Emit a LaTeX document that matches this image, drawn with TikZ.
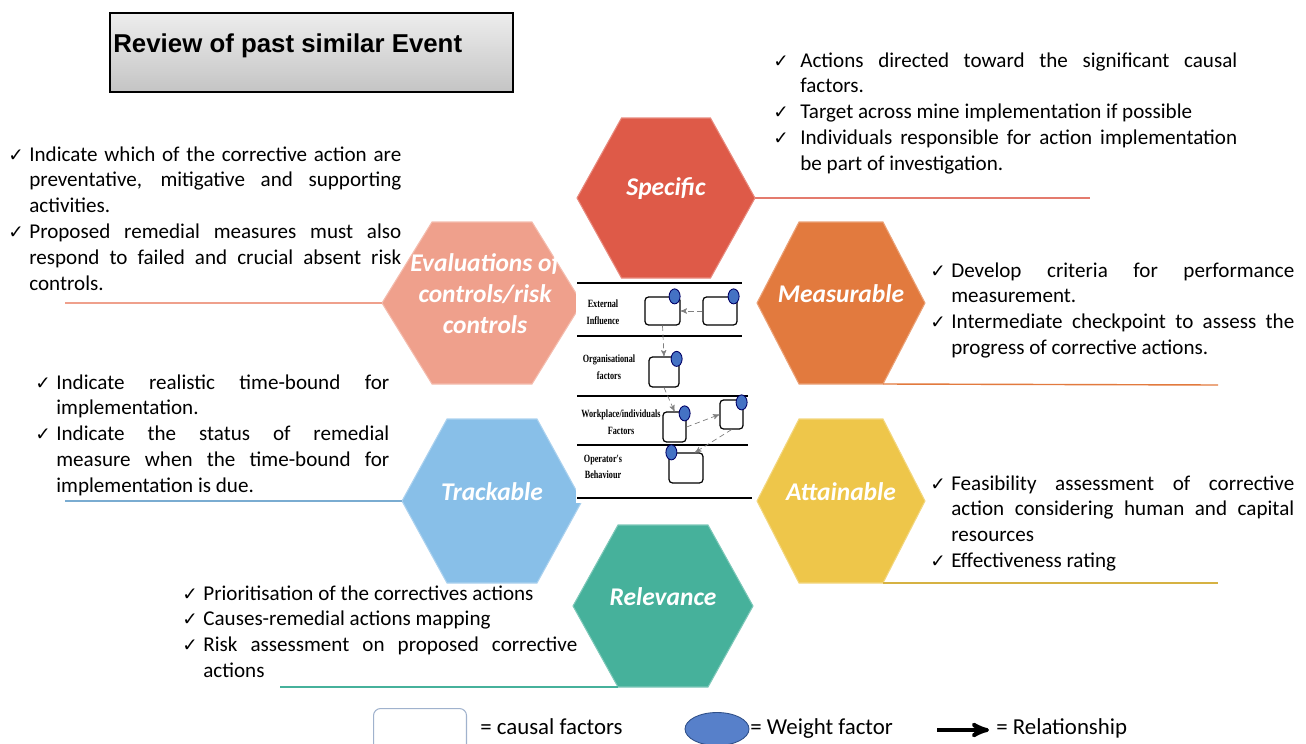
\documentclass[tikz,border=0pt]{standalone}
\usepackage{fontspec}
\setmainfont{Carlito}
\newfontfamily\titlefont{Liberation Sans}
\newfontfamily\layerfont[FakeStretch=0.74]{Liberation Serif}
\newfontfamily\chkfont{DejaVu Sans}
\usepackage{tikz}
\usetikzlibrary{arrows, positioning, shapes.geometric}

\definecolor{specred}{RGB}{222,90,72}
\definecolor{measorange}{RGB}{226,122,62}
\definecolor{attyellow}{RGB}{238,198,74}
\definecolor{relteal}{RGB}{70,177,155}
\definecolor{trackblue}{RGB}{136,191,232}
\definecolor{evalpink}{RGB}{239,160,140}
\definecolor{weightblue}{RGB}{68,114,196}
\definecolor{legendedge}{RGB}{160,178,205}

\hyphenpenalty=10000
\exhyphenpenalty=10000
\tolerance=10000

% check mark hanging left of an item
\newcommand{\chk}[1][0.42cm]{\leavevmode\llap{\makebox[#1][l]{\chkfont\fontsize{10.5}{10}\selectfont ✓}}}

% hexagon: name, x, y, half width, half height, colour
\newcommand{\hexcell}[6]{%
  \begin{scope}[shift={(#2,#3)}]
    \filldraw[fill=#6, draw=#6!70!white, line width=0.6pt] (-#4,0) -- (-#4/2,-#5) -- (#4/2,-#5) -- (#4,0) -- (#4/2,#5) -- (-#4/2,#5) -- cycle;
    \coordinate (#1-w) at (-#4,0);
    \coordinate (#1-e) at (#4,0);
    \coordinate (#1-se) at (#4/2,#5);
    \coordinate (#1-sw) at (-#4/2,#5);
    \coordinate (#1-c) at (0,-9);
  \end{scope}}

\tikzset{
>=stealth', % arrow heads
hexlabel/.style={text=white, font=\bfseries\itshape\fontsize{14.5}{17.6}\selectfont, align=center, inner sep=0pt},
bullets/.style={font=\fontsize{12}{14.7}\selectfont, align=justify, inner sep=0pt, anchor=base west},
leader/.style={line width=0.8pt},
layerline/.style={line width=0.8pt, draw=black},
layerlabel/.style={font=\layerfont\bfseries\fontsize{6.3}{9.5}\selectfont, align=center, inner sep=0pt},
causal/.style={draw=black, fill=white, line width=0.7pt, rounded corners=2pt, inner sep=0pt},
weight/.style={ellipse, draw=black!60!blue, fill=weightblue, line width=0.5pt, minimum width=0.22cm, minimum height=0.30cm, inner sep=0pt},
flow/.style={->, densely dashed, draw=gray, line width=0.4pt},
legtext/.style={font=\fontsize{13}{15}\selectfont, inner sep=0pt, anchor=base west},
}

\begin{document}
\begin{tikzpicture}[x=0.02cm, y=-0.02cm]
  \useasboundingbox (0,0) rectangle (1306,744);

  % title
  \node[draw=black, line width=0.9pt, top color=black!7, bottom color=black!23, minimum width=8.06cm, minimum height=1.58cm, anchor=north west] (title-box) at (109,12) {};
  \node[font=\titlefont\bfseries\fontsize{14.7}{17}\selectfont, inner sep=0pt, anchor=base west] (title) at (113,52) {Review of past similar Event};

  % hexagons
  \hexcell{spec}{666}{198}{89}{80}{specred}
  \hexcell{meas}{841}{303}{84}{81}{measorange}
  \hexcell{att}{841}{501}{84}{82}{attyellow}
  \hexcell{track}{492}{501}{90}{82}{trackblue}
  \hexcell{rel}{663}{606}{90}{81}{relteal}
  \hexcell{eval}{482}{303}{100}{81}{evalpink}

  \node[hexlabel] (specific) at (spec-c) {Specific};
  \node[hexlabel] (measurable) at (meas-c) {Measurable};
  \node[hexlabel] (attainable) at (att-c) {Attainable};
  \node[hexlabel] (trackable) at (track-c) {Trackable};
  \node[hexlabel] (relevance) at (rel-c) {Relevance};
  \node[hexlabel] (evaluations) at ([xshift=0.06cm]eval-c) {Evaluations of\\controls/risk\\controls};

  % leader lines
  \coordinate (spec-end) at (1090,198);
  \coordinate (meas-end) at (1218,385);
  \coordinate (att-end) at (1218,583);
  \coordinate (track-end) at (65,501);
  \coordinate (rel-end) at (280,687);
  \coordinate (eval-end) at (65,303);
  \draw[leader, specred!80!white] (spec-e) -- (spec-end);
  \draw[leader, measorange] (meas-se) -- (meas-end);
  \draw[leader, attyellow!90!black] (att-se) -- (att-end);
  \draw[leader, trackblue!90!black] (track-w) -- (track-end);
  \draw[leader, relteal] (rel-sw) -- (rel-end);
  \draw[leader, evalpink] (eval-w) -- (eval-end);

  % notes
  \node[bullets, text width=8.74cm] (spec-notes) at (800,67) {\chk[0.54cm]Actions directed toward the significant causal factors.\par\chk[0.54cm]Target across mine implementation if possible\par\chk[0.54cm]Individuals responsible for action implementation be part of investigation.};
  \node[bullets, text width=7.44cm] (eval-notes) at (29,161) {\chk Indicate which of the corrective action are\linebreak preventative, mitigative and supporting\linebreak activities.\par\chk Proposed remedial measures must also respond to failed and crucial absent risk controls.};
  \node[bullets, text width=6.86cm] (meas-notes) at (951,277) {\chk Develop criteria for performance measurement.\par\chk Intermediate checkpoint to assess the progress of corrective actions.};
  \node[bullets, text width=6.86cm] (att-notes) at (951,490) {\chk Feasibility assessment of corrective action considering human and capital resources\par\chk Effectiveness rating};
  \node[bullets, text width=6.66cm] (track-notes) at (56,389) {\chk Indicate realistic time-bound for implementation.\par\chk Indicate the status of remedial measure when the time-bound for implementation is due.};
  \node[bullets, text width=7.48cm] (rel-notes) at (203,600) {\chk Prioritisation of the correctives actions\par\chk Causes-remedial actions mapping\par\chk Risk assessment on proposed corrective actions};

  % causal model in the middle
  \fill[white] (576,280) rectangle (755,503);
  \draw[layerline] (577,283) -- (742,283);
  \draw[layerline] (577,336) -- (742,336);
  \draw[layerline] (577,396) -- (748,396);
  \draw[layerline] (577,445) -- (748,445);
  \draw[layerline] (577,498) -- (752,498);

  \node[layerlabel] (ext) at (603,312) {External\\Influence};
  \node[layerlabel] (org) at (609,367) {Organisational\\factors};
  \node[layerlabel] (work) at (621,422) {Workplace/individuals\\Factors};
  \node[layerlabel] (oper) at (603,467) {Operator's\\Behaviour};

  \node[causal, minimum width=0.70cm, minimum height=0.56cm] (b1) at (662.5,311) {};
  \node[causal, minimum width=0.68cm, minimum height=0.56cm] (b2) at (720,311) {};
  \node[causal, minimum width=0.60cm, minimum height=0.60cm] (b3) at (664,372) {};
  \node[causal, minimum width=0.46cm, minimum height=0.60cm] (b4) at (674.5,427) {};
  \node[causal, minimum width=0.46cm, minimum height=0.58cm] (b5) at (731.5,414.5) {};
  \node[causal, minimum width=0.68cm, minimum height=0.60cm] (b6) at (686,468) {};

  \node[weight] (w1) at ([xshift=-0.12cm]b1.north east) {};
  \node[weight] (w2) at ([xshift=-0.08cm]b2.north east) {};
  \node[weight] (w3) at ([xshift=-0.06cm, yshift=-0.05cm]b3.north east) {};
  \node[weight] (w4) at ([xshift=-0.04cm, yshift=-0.04cm]b4.north east) {};
  \node[weight] (w5) at ([xshift=-0.04cm, yshift=-0.06cm]b5.north east) {};
  \node[weight] (w6) at ([xshift=0.06cm]b6.north west) {};

  \draw[flow] (b2.west) -- (b1.east);
  \draw[flow] (b1.south) -- (b3.north);
  \draw[flow] (b3.south) -- (b4.north);
  \draw[flow] (b4.east) -- (b5.west);
  \draw[flow] (b5.south) -- (b6.60);

  % legend
  \node[draw=legendedge, fill=white, line width=0.6pt, rounded corners=4pt, minimum width=1.86cm, minimum height=1.1cm, anchor=north west] (leg-box) at (373,708) {};
  \node[legtext] (leg-causal) at (480,734) {= causal factors};
  \node[ellipse, draw=weightblue!70!black, fill=weightblue!90!white, line width=0.5pt, minimum width=1.28cm, minimum height=0.66cm, inner sep=0pt] (leg-weight) at (717,729) {};
  \node[legtext] (leg-weighttext) at (750,734) {= Weight factor};
  \node[legtext] (leg-rel) at (996,734) {= Relationship};
  \coordinate (leg-tail) at (937,730);
  \draw[->, line width=2.2pt, shorten >=4pt] (leg-tail) -- (leg-rel.west |- leg-tail);
\end{tikzpicture}
\end{document}
